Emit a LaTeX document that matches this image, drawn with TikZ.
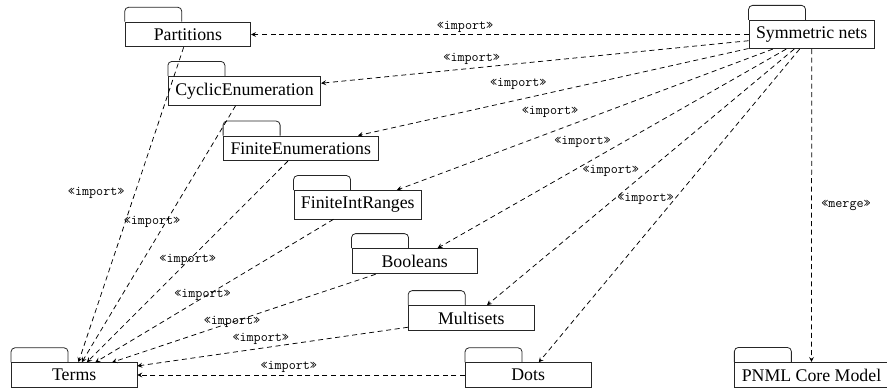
\documentclass[tikz,border=0pt]{standalone}
\usepackage{fontspec}
\setmainfont{Liberation Serif}
\newfontfamily\pkgfont{Liberation Serif}
\usetikzlibrary{arrows.meta}
\begin{document}
\begin{tikzpicture}[x=1pt,y=-1pt,
  pkg/.style={draw=black!85, line width=0.8pt, minimum width=125.5pt,
    inner xsep=7pt, inner ysep=6.4pt, font=\pkgfont\fontsize{17.8}{20}\selectfont},
  tab/.style={draw=black!85, line width=0.8pt, rounded corners=4pt},
  dep/.style={draw=black, line width=0.75pt, dash pattern=on 5pt off 3.6pt,
    -{Stealth[length=5pt,width=5pt,inset=2pt]}},
  lbl/.style={font=\ttfamily\fontsize{13.7}{15}\selectfont, inner sep=0pt}]
\useasboundingbox (0,0) rectangle (887,390);

% packages
\node[pkg] (part) at (187.9,34.5) {Partitions};
\node[pkg] (cyc)  at (244.5,90.8) {CyclicEnumeration};
\node[pkg] (fen)  at (300.7,148.3) {FiniteEnumerations};
\node[pkg] (fir)  at (357.8,204.7) {FiniteIntRanges};
\node[pkg] (bool) at (414.7,261.2) {Booleans};
\node[pkg] (mult) at (471.3,318.2) {Multisets};
\node[pkg] (dots) at (528.2,375) {Dots};
\node[pkg] (terms) at (74.2,375) {Terms};
\node[pkg] (sym)  at (811.7,34.5) {Symmetric nets};
\node[pkg] (pnml) at (811.5,375) {PNML Core Model};

\foreach \n in {part,cyc,fen,fir,bool,mult,dots,terms,sym,pnml}
  \draw[tab] (\n.north west) -- ++(0,-14.5) -- ++(57,0) -- ++(0,14.5);

% imports from Symmetric nets
\foreach \n in {part,cyc,fen,fir,bool,mult,dots}
  \draw[dep] (sym) -- (\n);
\draw[dep] (sym) -- (pnml);

% imports into Terms
\foreach \n in {part,cyc,fen,fir,bool,mult,dots}
  \draw[dep] (\n) -- (terms);

% labels
\node[lbl] (l1) at (465,27.3) {«import»};
\node[lbl] (l2) at (471.7,59.3) {«import»};
\node[lbl] (l3) at (518.3,84.3) {«import»};
\node[lbl] (l4) at (550,112.3) {«import»};
\node[lbl] (l5) at (582.5,141.7) {«import»};
\node[lbl] (l6) at (610.8,170.7) {«import»};
\node[lbl] (l7) at (645.5,199) {«import»};
\node[lbl] (lm) at (846,205) {«merge»};

\node[lbl] (t1) at (96.2,192.5) {«import»};
\node[lbl] (t2) at (152,221.5) {«import»};
\node[lbl] (t3) at (187.7,260) {«import»};
\node[lbl] (t4) at (202.5,295) {«import»};
\node[lbl] (t5) at (232,322.3) {«import»};
\node[lbl] (t6) at (260.8,339.3) {«import»};
\node[lbl] (t7) at (288.8,367.3) {«import»};
\end{tikzpicture}
\end{document}
